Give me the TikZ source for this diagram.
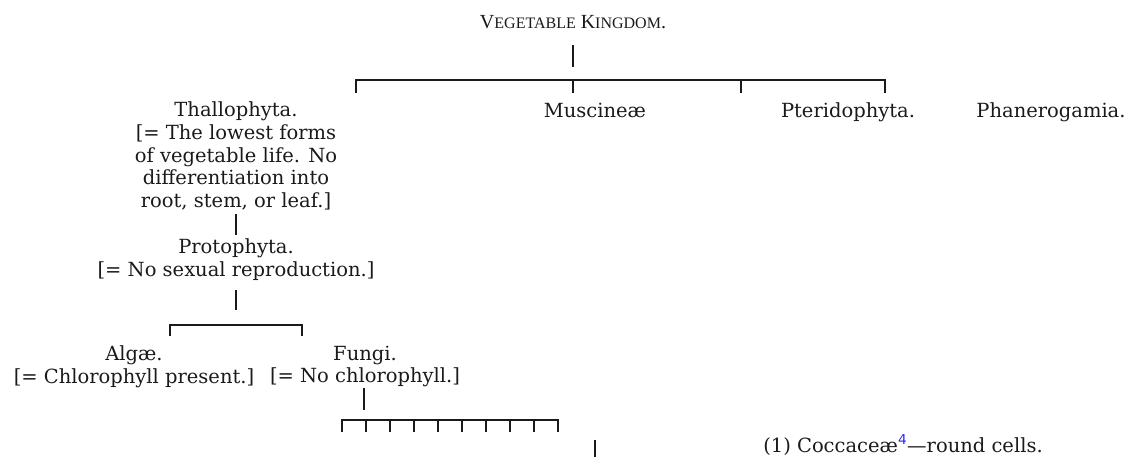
\documentclass[tikz,border=0pt]{standalone}
\usepackage{fontspec}
\setmainfont{DejaVu Serif}
\newfontfamily\titlefont{Liberation Serif}
\newfontfamily\notefont{DejaVu Sans}
\usetikzlibrary{positioning}
\definecolor{cink}{HTML}{1A1A1A}
\definecolor{clink}{HTML}{2B2BF0}
\newcommand{\smcap}[1]{{\fontsize{16}{18}\selectfont #1}}
\tikzset{
  every picture/.style={line width=1.6pt, color=cink, x=1pt, y=-1pt},
  taxon/.style={font=\fontsize{19.5}{22.7}\selectfont, inner sep=0pt, align=center},
  kingdom/.style={font=\titlefont\fontsize{20}{22}\selectfont, inner sep=0pt},
}

\begin{document}
\begin{tikzpicture}
  \useasboundingbox (0,0) rectangle (1130,456);
  \node[kingdom, anchor=base] (kingdom) at (573,28) {V\smcap{EGETABLE} K\smcap{INGDOM}.};
  \coordinate (top-stem) at (573,67);
  \coordinate (top-l) at (356,80);
  \coordinate (top-r) at (885,80);
  \draw ([yshift=-16pt]kingdom.south) -- (top-stem);
  \draw (top-l) ++(0,13) -- (top-l) -- (top-r) -- ++(0,13);
  \foreach \x in {573,741} \draw (\x,80) -- ++(0,13);

  \node[taxon, anchor=north] (thallo) at (236,101) {Thallophyta.\\{[}= The lowest forms\\of vegetable life. No\\differentiation into\\root, stem, or leaf.]};
  \node[taxon, anchor=base] (muscineae) at (595,117) {Muscineæ};
  \node[taxon, anchor=base] (pterido) at (848,117) {Pteridophyta.};
  \node[taxon, anchor=base] (phanero) at (1051,117) {Phanerogamia.};

  \node[taxon, anchor=north] (proto) at (236,238) {Protophyta.\\{[}= No sexual reproduction.]};
  \draw ([yshift=-3pt]thallo.south) -- ([yshift=3pt]proto.north);
  \coordinate (proto-stem) at (236,310);
  \coordinate (pf-l) at (170,325);
  \coordinate (pf-r) at (302,325);
  \draw ([yshift=-9pt]proto.south) -- (proto-stem);
  \draw (pf-l) ++(0,11) -- (pf-l) -- (pf-r) -- ++(0,11);

  \node[taxon, anchor=north] (algae) at (134,345) {Algæ.\\{[}= Chlorophyll present.]};
  \node[taxon, anchor=north] (fungi) at (365,345) {Fungi.\\{[}= No chlorophyll.]};
  \coordinate (fungi-stem) at (364,410);
  \coordinate (ff-l) at (342,420);
  \coordinate (ff-r) at (558,420);
  \draw (fungi.south -| fungi-stem) -- (fungi-stem);
  \draw (ff-l) ++(0,12) -- (ff-l) -- (ff-r) -- ++(0,12);
  \foreach \x in {366,390,...,534} \draw (\x,420) -- ++(0,12);

  \coordinate (cocc-t) at (595,440);
  \coordinate (cocc-b) at (595,460);
  \draw (cocc-t) -- (cocc-b);
  \node[taxon, anchor=base] (cocc) at (903,452) {(1) Coccaceæ\textsuperscript{\notefont\color{clink}4}—round cells.};
\end{tikzpicture}
\end{document}
